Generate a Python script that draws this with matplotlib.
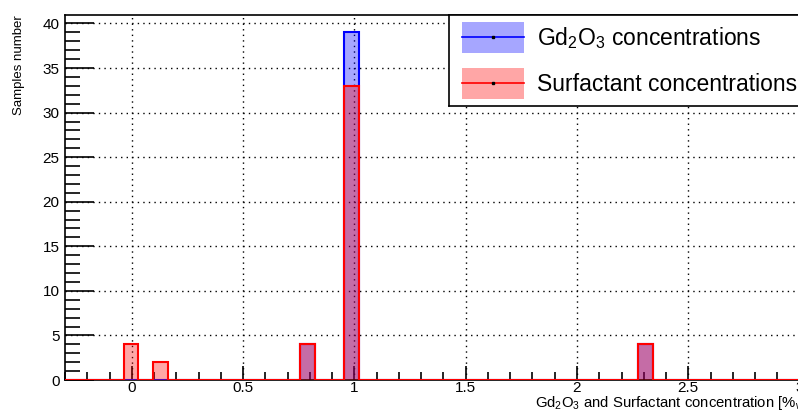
import numpy as np
import matplotlib
matplotlib.use("Agg")
import matplotlib.pyplot as plt
from matplotlib.patches import Rectangle
from matplotlib.lines import Line2D
from matplotlib.ticker import MultipleLocator, FuncFormatter

plt.rcParams['font.family'] = ['Liberation Sans', 'DejaVu Sans']
plt.rcParams['mathtext.fontset'] = 'custom'
plt.rcParams['mathtext.rm'] = 'Liberation Sans'
plt.rcParams['mathtext.it'] = 'Liberation Sans'

# Histogram binning: 50 bins between -0.3 and 3.0
x_min, x_max, n_bins = -0.3, 3.0, 50
edges = np.linspace(x_min, x_max, n_bins + 1)

# Concentrations (bin centre value) and sample counts
gd_conc = [0.8, 1.0, 2.3]
gd_counts = [4, 39, 4]
surf_conc = [0.0, 0.13, 0.8, 1.0, 2.3]
surf_counts = [4, 2, 4, 33, 4]

gd_label = "Gd$_2$O$_3$ concentrations"
surf_label = "Surfactant concentrations"
x_title = "Gd$_2$O$_3$ and Surfactant concentration [%$_{w/w}$]"
y_title = "Samples number"

gd_hist, _ = np.histogram(gd_conc, bins=edges, weights=gd_counts)
surf_hist, _ = np.histogram(surf_conc, bins=edges, weights=surf_counts)

blue_fill = (0.0, 0.0, 1.0, 0.35)
red_fill = (1.0, 0.0, 0.0, 0.35)

W, H = 798, 411
fig = plt.figure(figsize=(W / 100, H / 100), dpi=100)
ax = fig.add_axes([65 / W, 1 - 380 / H, 1 - 65 / W + 0.002, (380 - 15) / H])

ymax = 1.05 * max(gd_hist.max(), surf_hist.max())

ax.grid(True, which='major', color='black', linestyle=(0, (1, 3)), linewidth=1.0)
ax.set_axisbelow(True)

ax.stairs(gd_hist, edges, baseline=0, fill=True, color=blue_fill, linewidth=0, zorder=2)
ax.stairs(gd_hist, edges, baseline=0, fill=False, color='blue', linewidth=1.5, zorder=3)
ax.stairs(surf_hist, edges, baseline=0, fill=True, color=red_fill, linewidth=0, zorder=4)
ax.stairs(surf_hist, edges, baseline=0, fill=False, color='red', linewidth=1.5, zorder=5)

ax.set_xlim(x_min, x_max)
ax.set_ylim(0, ymax)

ax.xaxis.set_major_locator(MultipleLocator(0.5))
ax.xaxis.set_minor_locator(MultipleLocator(0.1))
ax.yaxis.set_major_locator(MultipleLocator(5))
ax.yaxis.set_minor_locator(MultipleLocator(1))
ax.tick_params(axis='both', which='both', direction='in', color='black', labelsize=11)
ax.tick_params(axis='x', which='major', length=10, width=1.2, pad=0.5)
ax.tick_params(axis='x', which='minor', length=6, width=1.2)
ax.tick_params(axis='y', which='major', length=21, width=1.2, pad=4)
ax.tick_params(axis='y', which='minor', length=11, width=1.2)
ax.xaxis.set_major_formatter(FuncFormatter(lambda v, p: f"{v:g}"))

for s in ax.spines.values():
    s.set_linewidth(1.2)
ax.spines['right'].set_visible(False)

fig.text(535 / W, 1 - 407 / H, x_title, fontsize=10.7, ha='left', va='baseline')
fig.text(19 / W, 1 - 15 / H, y_title, fontsize=9.5, rotation=90, ha='center', va='top')

# Legend box with filled swatches and a centred line
lax = fig.add_axes([449 / W, 1 - 106 / H, 1 - 449 / W + 0.01, 91 / H])
lax.set_xlim(449, W + 8)
lax.set_ylim(106, 15)
lax.set_xticks([])
lax.set_yticks([])
for s in lax.spines.values():
    s.set_linewidth(1.2)
entries = [(gd_label, (0.65, 0.65, 1.0), 'blue', 22, 53),
           (surf_label, (1.0, 0.65, 0.65), 'red', 68, 99)]
for text, fc, lc, y0, y1 in entries:
    lax.add_patch(Rectangle((462, y0), 62, y1 - y0, facecolor=fc, edgecolor='none'))
    ym = (y0 + y1) / 2
    lax.add_line(Line2D([462, 524], [ym, ym], color=lc, linewidth=1.2))
    lax.plot([493], [ym], marker='s', markersize=1.5, color='black')
    lax.text(537, ym + 1, text, fontsize=16.5, ha='left', va='center')

fig.savefig("out.png", dpi=100)
